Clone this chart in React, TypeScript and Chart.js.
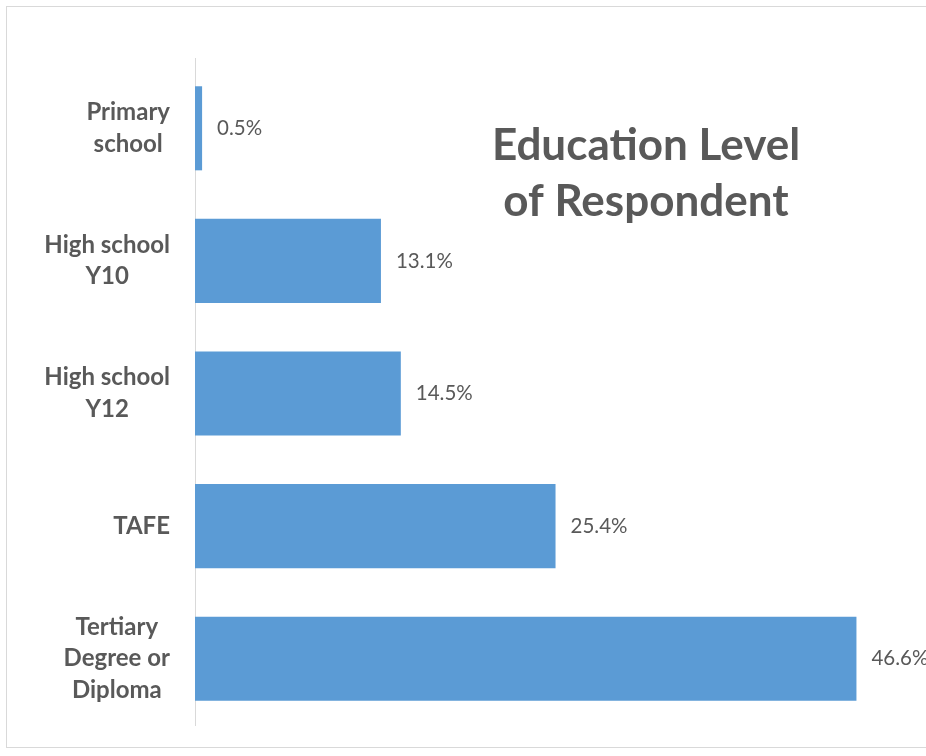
import React, { useEffect, useRef } from "react";
import { Chart, registerables } from "chart.js";

Chart.register(...registerables);

const categories: string[][] = [
  ["Primary", "school"],
  ["High school", "Y10"],
  ["High school", "Y12"],
  ["TAFE"],
  ["Tertiary", "Degree or", "Diploma"],
];
const shares: number[] = [0.5, 13.1, 14.5, 25.4, 46.6];
const titleLines: string[] = ["Education Level", "of Respondent"];

const TEXT = "#595959";
const BAR = "#5B9BD5";
const LINE = "#d9d9d9";

const decorPlugin = {
  id: "decor",
  beforeDraw(chart: any) {
    const { ctx } = chart;
    ctx.save();
    ctx.strokeStyle = LINE;
    ctx.lineWidth = 1;
    ctx.strokeRect(6.5, 6.5, 940, 741);
    // axis line extends slightly above the plot area, as in the reference
    ctx.beginPath();
    ctx.moveTo(chart.chartArea.left + 0.5, 58);
    ctx.lineTo(chart.chartArea.left + 0.5, chart.chartArea.top);
    ctx.stroke();
    ctx.restore();
  },
  afterDatasetsDraw(chart: any) {
    const { ctx } = chart;
    const meta = chart.getDatasetMeta(0);
    const yScale = chart.scales.y;
    ctx.save();
    // value labels
    ctx.font = "20.5px Lato";
    ctx.fillStyle = TEXT;
    ctx.textAlign = "left";
    ctx.textBaseline = "middle";
    meta.data.forEach((bar: any, i: number) => {
      ctx.fillText(shares[i].toFixed(1) + "%", bar.x + 15, bar.y);
    });
    // category labels: each block centred on itself, right edge at axis - 25
    ctx.font = "bold 24px Lato";
    ctx.textAlign = "center";
    const lh = 31.5;
    const rightEdge = chart.chartArea.left - 25;
    categories.forEach((lines, i) => {
      const cy = yScale.getPixelForTick(i);
      const w = Math.max(...lines.map((l) => ctx.measureText(l).width));
      const cx = rightEdge - w / 2;
      const top = cy - ((lines.length - 1) * lh) / 2;
      lines.forEach((l, j) => ctx.fillText(l, cx, top + j * lh));
    });
    // title
    ctx.font = "bold 44px Lato";
    ctx.fillStyle = TEXT;
    ctx.textAlign = "center";
    titleLines.forEach((t, j) => ctx.fillText(t, 646, 146 + j * 56));
    ctx.restore();
  },
};

export default function App() {
  const ref = useRef<HTMLCanvasElement>(null);
  useEffect(() => {
    if (!ref.current) return;
    const chart = new Chart(ref.current, {
      type: "bar",
      data: {
        labels: categories,
        datasets: [
          {
            data: shares,
            backgroundColor: BAR,
            borderWidth: 0,
            barPercentage: 0.634,
            categoryPercentage: 1,
          },
        ],
      },
      options: {
        indexAxis: "y",
        animation: false,
        responsive: false,
        devicePixelRatio: 1,
        layout: { padding: { top: 62, bottom: 31, left: 0, right: 0 } },
        plugins: {
          legend: { display: false },
          tooltip: { enabled: false },
          title: { display: false },
        },
        scales: {
          x: {
            display: false,
            min: 0,
            max: 51.5,
          },
          y: {
            grid: { display: false, drawTicks: false },
            border: { display: true, color: LINE, width: 1 },
            ticks: { display: false },
            afterFit: (scale: any) => {
              scale.width = 195;
            },
          },
        },
      },
      plugins: [decorPlugin],
    });
    return () => chart.destroy();
  }, []);
  return (
    <div style={{ position: "fixed", left: 0, top: 0, width: 926, height: 756, background: "#fff" }}>
      <canvas ref={ref} width={926} height={756} />
    </div>
  );
}
